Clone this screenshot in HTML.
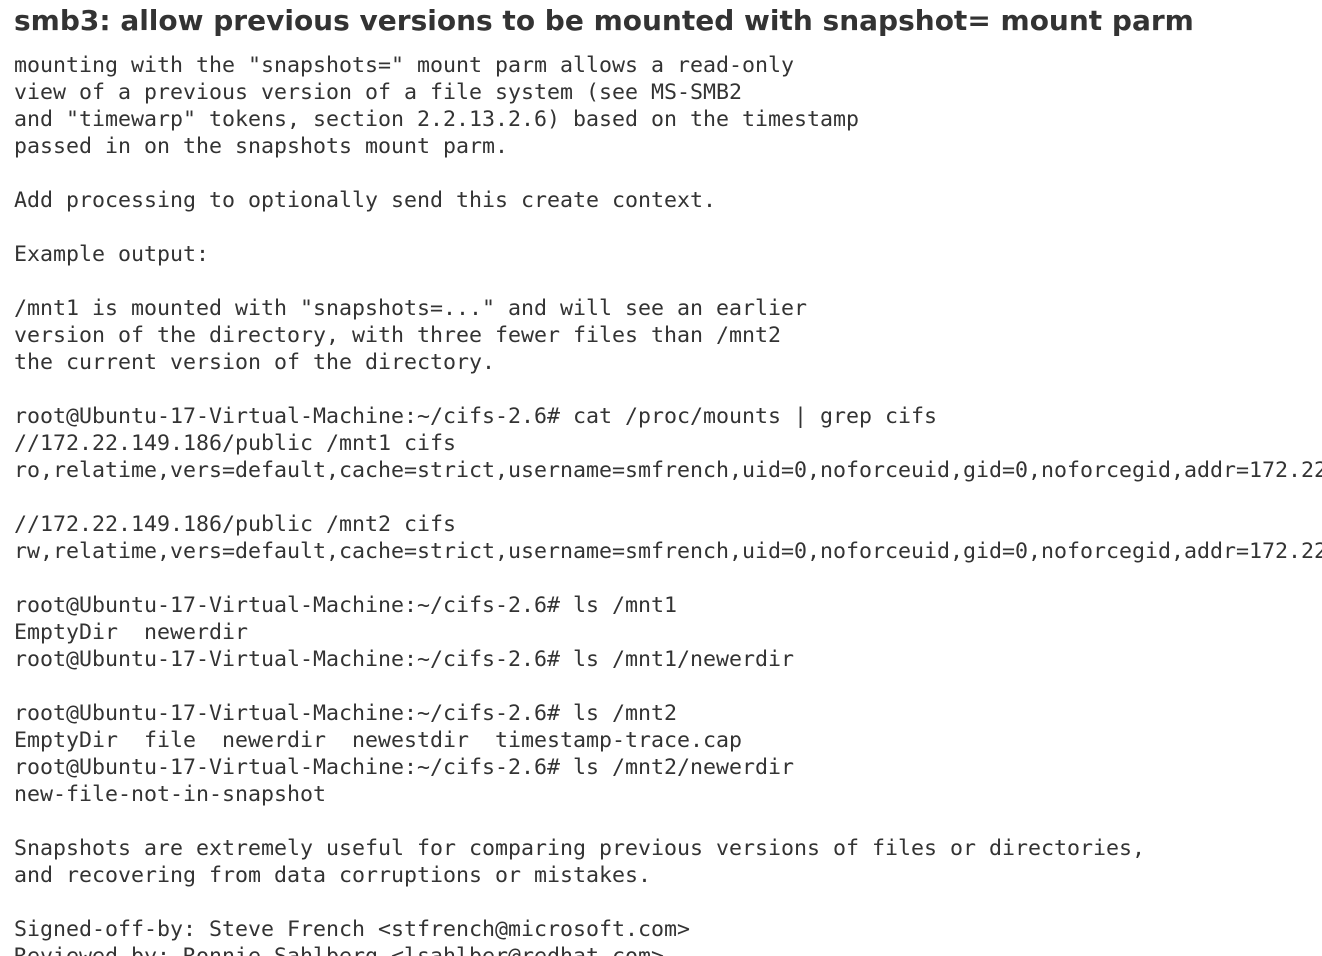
<!DOCTYPE html>
<html><head><meta charset="utf-8"><style>
html,body{margin:0;padding:0;background:#fff;width:1322px;height:956px;overflow:hidden}
h1{position:absolute;left:14px;top:3px;margin:0;font-family:"DejaVu Sans","Liberation Sans",sans-serif;font-weight:bold;font-size:28px;line-height:36px;color:#333;white-space:nowrap}
pre{position:absolute;left:14px;top:52px;width:1308px;height:904px;overflow:hidden;margin:0;font-family:"DejaVu Sans Mono","Liberation Mono",monospace;font-size:21.6px;line-height:27px;color:#333;white-space:pre}
</style></head><body>
<h1>smb3: allow previous versions to be mounted with snapshot= mount parm</h1>
<pre>mounting with the "snapshots=" mount parm allows a read-only
view of a previous version of a file system (see MS-SMB2
and "timewarp" tokens, section 2.2.13.2.6) based on the timestamp
passed in on the snapshots mount parm.

Add processing to optionally send this create context.

Example output:

/mnt1 is mounted with "snapshots=..." and will see an earlier
version of the directory, with three fewer files than /mnt2
the current version of the directory.

root@Ubuntu-17-Virtual-Machine:~/cifs-2.6# cat /proc/mounts | grep cifs
//172.22.149.186/public /mnt1 cifs
ro,relatime,vers=default,cache=strict,username=smfrench,uid=0,noforceuid,gid=0,noforcegid,addr=172.22.149.186

//172.22.149.186/public /mnt2 cifs
rw,relatime,vers=default,cache=strict,username=smfrench,uid=0,noforceuid,gid=0,noforcegid,addr=172.22.149.186

root@Ubuntu-17-Virtual-Machine:~/cifs-2.6# ls /mnt1
EmptyDir  newerdir
root@Ubuntu-17-Virtual-Machine:~/cifs-2.6# ls /mnt1/newerdir

root@Ubuntu-17-Virtual-Machine:~/cifs-2.6# ls /mnt2
EmptyDir  file  newerdir  newestdir  timestamp-trace.cap
root@Ubuntu-17-Virtual-Machine:~/cifs-2.6# ls /mnt2/newerdir
new-file-not-in-snapshot

Snapshots are extremely useful for comparing previous versions of files or directories,
and recovering from data corruptions or mistakes.

Signed-off-by: Steve French &lt;stfrench@microsoft.com&gt;
Reviewed-by: Ronnie Sahlberg &lt;lsahlber@redhat.com&gt;</pre>
</body></html>
